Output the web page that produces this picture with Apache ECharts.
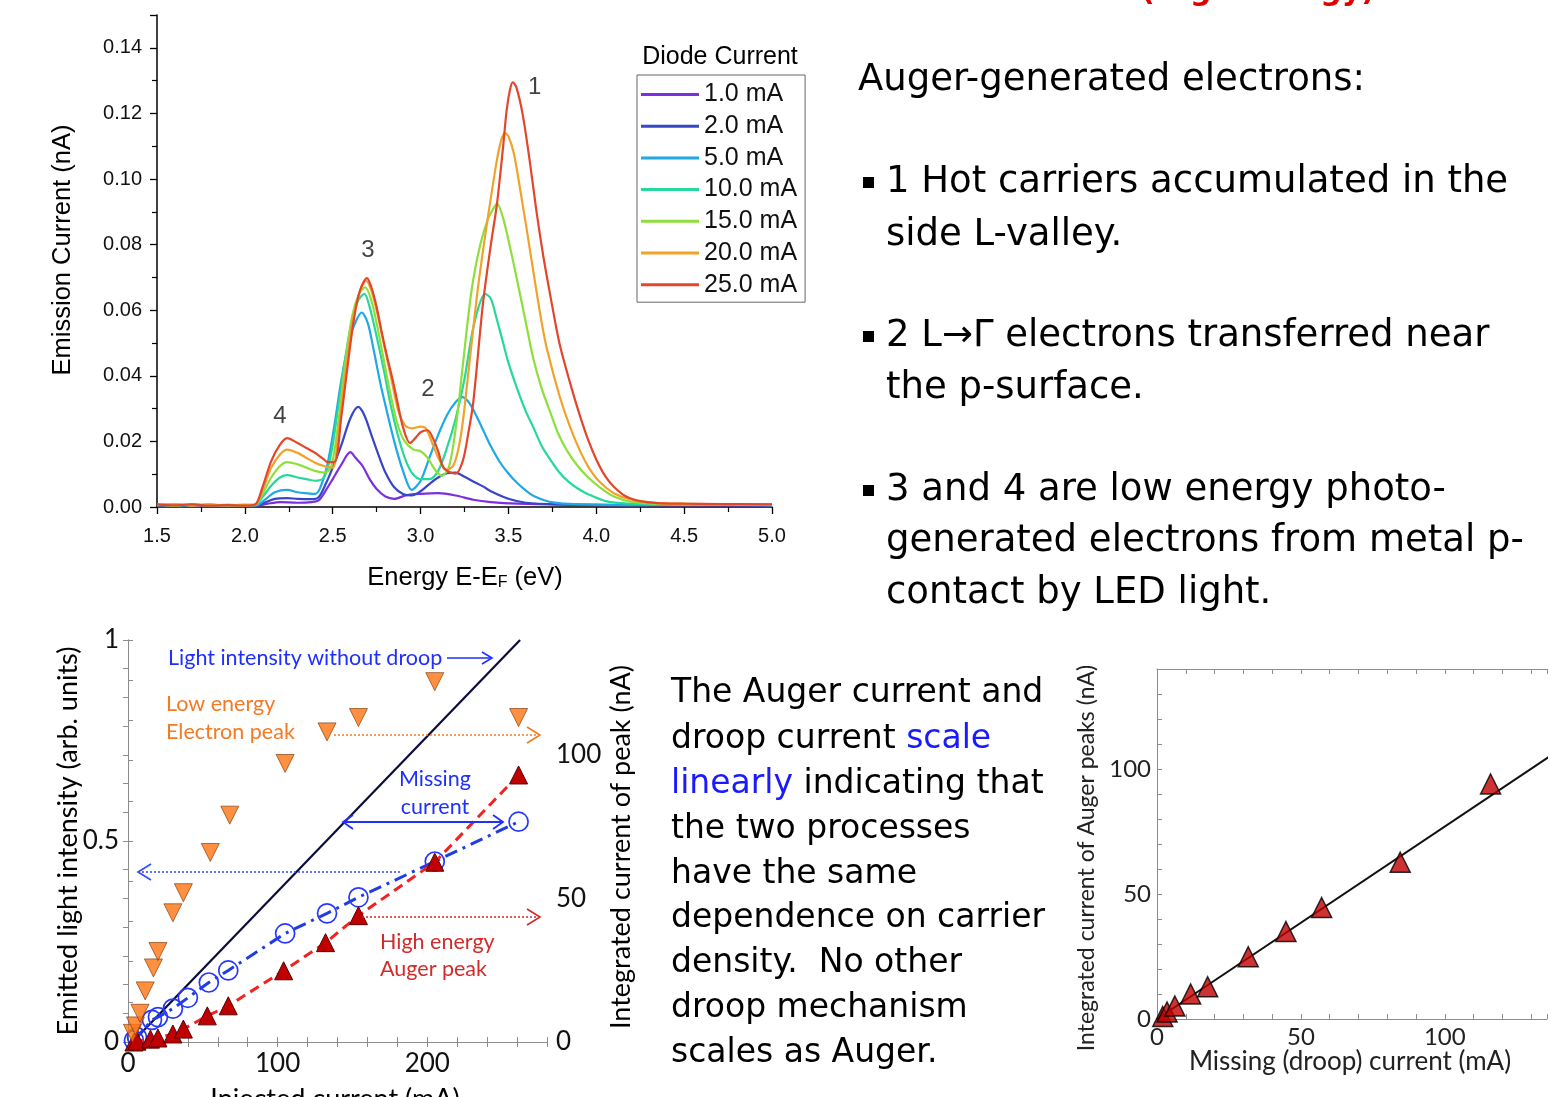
<!DOCTYPE html>
<html>
<head>
<meta charset="utf-8">
<title>Auger-generated electrons and LED droop</title>
<script src="https://cdn.jsdelivr.net/npm/echarts@6/dist/echarts.min.js"></script>
<style>
  html, body { margin: 0; padding: 0; background: #ffffff; }
  #chart { width: 1550px; height: 1097px; }
</style>
</head>
<body>
<div id="chart"></div>
<script>
// ---------- Emission spectra, one per diode current: [energy E-EF (eV), emission current (nA)] ----------
const diodeCurrents = ['1.0 mA', '2.0 mA', '5.0 mA', '10.0 mA', '15.0 mA', '20.0 mA', '25.0 mA'];
const curveColors = ['#7b2fe0', '#3646c9', '#1fa7e6', '#26d89a', '#8fdf3c', '#f1a22a', '#e3462b'];

const spec1mA = [[1.5,0.0005],[1.7,0.0006],[1.9,0.0004],[2.08,0.0005],[2.13,0.001],[2.2,0.0015],[2.3,0.0013],[2.38,0.0015],[2.42,0.002],[2.46,0.005],[2.5,0.0085],[2.55,0.013],[2.6,0.0167],[2.63,0.015],[2.67,0.0125],[2.71,0.0085],[2.75,0.0055],[2.8,0.0032],[2.85,0.0025],[2.92,0.0036],[3.0,0.004],[3.1,0.0042],[3.2,0.0035],[3.3,0.0022],[3.4,0.0015],[3.55,0.001],[3.8,0.0007],[4.2,0.0006],[5.0,0.0005]];

const spec2mA = [[1.5,0.0006],[1.7,0.0004],[1.9,0.0006],[2.07,0.0005],[2.12,0.0015],[2.17,0.0025],[2.24,0.0027],[2.3,0.0025],[2.38,0.0024],[2.42,0.003],[2.46,0.007],[2.5,0.012],[2.55,0.019],[2.6,0.027],[2.645,0.0305],[2.68,0.028],[2.72,0.022],[2.76,0.016],[2.8,0.0105],[2.85,0.006],[2.9,0.004],[2.95,0.0035],[3.0,0.0048],[3.05,0.007],[3.1,0.009],[3.15,0.0103],[3.2,0.0105],[3.25,0.0092],[3.3,0.0078],[3.355,0.0063],[3.4,0.0048],[3.5,0.0025],[3.6,0.0013],[3.8,0.0008],[4.1,0.0006],[4.5,0.0007],[5.0,0.0005]];

const spec5mA = [[1.5,0.0008],[1.6,0.0005],[1.7,0.0007],[1.8,0.0004],[1.9,0.0006],[2.0,0.0005],[2.07,0.0006],[2.12,0.0025],[2.17,0.0045],[2.24,0.0052],[2.3,0.0045],[2.35,0.0042],[2.4,0.004],[2.43,0.006],[2.47,0.013],[2.51,0.025],[2.55,0.039],[2.6,0.052],[2.635,0.057],[2.665,0.0593],[2.7,0.056],[2.73,0.0487],[2.77,0.038],[2.8,0.031],[2.85,0.02],[2.9,0.011],[2.95,0.0052],[3.0,0.008],[3.05,0.015],[3.1,0.022],[3.15,0.028],[3.2,0.032],[3.24,0.0335],[3.28,0.0315],[3.32,0.0275],[3.36,0.023],[3.4,0.0185],[3.45,0.0138],[3.5,0.0102],[3.55,0.0073],[3.6,0.005],[3.65,0.0032],[3.75,0.0014],[3.9,0.0008],[4.2,0.0006],[4.6,0.0007],[5.0,0.0006]];

const spec10mA = [[1.5,0.0005],[1.6,0.0008],[1.7,0.0005],[1.8,0.0008],[1.9,0.0004],[2.0,0.0007],[2.06,0.0006],[2.1,0.003],[2.15,0.0065],[2.2,0.009],[2.24,0.0097],[2.3,0.009],[2.35,0.0085],[2.4,0.008],[2.45,0.009],[2.49,0.016],[2.53,0.03],[2.57,0.045],[2.61,0.057],[2.645,0.063],[2.68,0.065],[2.71,0.061],[2.75,0.052],[2.79,0.042],[2.83,0.031],[2.87,0.022],[2.91,0.015],[2.95,0.0105],[3.0,0.0085],[3.05,0.0085],[3.1,0.011],[3.15,0.018],[3.2,0.027],[3.25,0.039],[3.29,0.052],[3.33,0.061],[3.367,0.065],[3.4,0.0635],[3.43,0.058],[3.47,0.05],[3.5,0.044],[3.55,0.036],[3.6,0.029],[3.64,0.0245],[3.69,0.0185],[3.74,0.0143],[3.79,0.0105],[3.84,0.0078],[3.89,0.0058],[3.95,0.004],[4.06,0.0017],[4.2,0.001],[4.4,0.0007],[4.7,0.0008],[5.0,0.0006]];

const spec15mA = [[1.5,0.0007],[1.6,0.0004],[1.7,0.0008],[1.8,0.0005],[1.9,0.0007],[2.0,0.0004],[2.06,0.0007],[2.1,0.004],[2.15,0.009],[2.2,0.0125],[2.24,0.0137],[2.3,0.013],[2.35,0.012],[2.4,0.011],[2.45,0.0105],[2.49,0.012],[2.53,0.025],[2.57,0.043],[2.61,0.058],[2.65,0.065],[2.685,0.067],[2.72,0.063],[2.75,0.056],[2.79,0.045],[2.83,0.034],[2.87,0.025],[2.91,0.02],[2.96,0.0175],[3.0,0.017],[3.04,0.015],[3.08,0.0115],[3.12,0.0095],[3.16,0.012],[3.2,0.024],[3.24,0.043],[3.29,0.066],[3.34,0.08],[3.385,0.088],[3.42,0.0915],[3.435,0.0925],[3.47,0.088],[3.51,0.079],[3.55,0.069],[3.6,0.056],[3.64,0.0456],[3.69,0.036],[3.74,0.0286],[3.78,0.0228],[3.83,0.0175],[3.89,0.0128],[3.95,0.0092],[4.02,0.006],[4.1,0.0032],[4.2,0.0016],[4.35,0.001],[4.5,0.0008],[4.7,0.0009],[5.0,0.0007]];

const spec20mA = [[1.5,0.0006],[1.6,0.0009],[1.7,0.0004],[1.8,0.0007],[1.9,0.0005],[2.0,0.0006],[2.06,0.0008],[2.1,0.005],[2.15,0.012],[2.2,0.016],[2.24,0.0175],[2.3,0.0165],[2.35,0.015],[2.4,0.0135],[2.45,0.0125],[2.5,0.012],[2.53,0.022],[2.57,0.04],[2.61,0.056],[2.65,0.065],[2.69,0.069],[2.72,0.066],[2.75,0.06],[2.79,0.05],[2.83,0.04],[2.87,0.03],[2.91,0.025],[2.95,0.024],[3.0,0.0245],[3.03,0.024],[3.07,0.019],[3.11,0.014],[3.15,0.0113],[3.19,0.013],[3.23,0.022],[3.27,0.04],[3.32,0.064],[3.36,0.08],[3.395,0.0925],[3.435,0.106],[3.46,0.112],[3.48,0.114],[3.5,0.113],[3.53,0.108],[3.56,0.099],[3.6,0.086],[3.65,0.069],[3.69,0.056],[3.72,0.048],[3.79,0.034],[3.85,0.0245],[3.91,0.0168],[3.96,0.0118],[4.02,0.0076],[4.1,0.0042],[4.2,0.0022],[4.35,0.0012],[4.5,0.001],[4.7,0.0008],[5.0,0.0009]];

const spec25mA = [[1.5,0.0008],[1.6,0.0005],[1.7,0.0008],[1.8,0.0004],[1.9,0.0006],[2.0,0.0004],[2.06,0.0008],[2.1,0.006],[2.15,0.014],[2.2,0.019],[2.24,0.021],[2.3,0.0195],[2.35,0.018],[2.4,0.0165],[2.45,0.0145],[2.47,0.0137],[2.51,0.0137],[2.55,0.028],[2.58,0.041],[2.62,0.057],[2.655,0.066],[2.695,0.0698],[2.72,0.067],[2.75,0.061],[2.78,0.053],[2.81,0.0457],[2.84,0.039],[2.866,0.0326],[2.9,0.0243],[2.94,0.0195],[2.97,0.021],[3.0,0.0228],[3.04,0.0234],[3.07,0.021],[3.1,0.017],[3.13,0.012],[3.17,0.0105],[3.2,0.0102],[3.24,0.014],[3.27,0.022],[3.3,0.032],[3.355,0.062],[3.4,0.08],[3.435,0.0925],[3.47,0.11],[3.49,0.121],[3.51,0.1275],[3.525,0.1295],[3.545,0.128],[3.58,0.12],[3.62,0.106],[3.66,0.09],[3.7,0.076],[3.74,0.064],[3.79,0.05],[3.85,0.038],[3.9,0.029],[3.95,0.021],[4.0,0.0145],[4.05,0.0095],[4.1,0.0062],[4.17,0.0032],[4.25,0.0018],[4.35,0.0012],[4.5,0.001],[4.7,0.0009],[5.0,0.0008]];

const spectra = [spec1mA, spec2mA, spec5mA, spec10mA, spec15mA, spec20mA, spec25mA];

// peak numbers written next to the spectra: [tag, energy, current]
const peakTags = [['1', 3.65, 0.1278], ['2', 3.042, 0.0359], ['3', 2.70, 0.0782], ['4', 2.20, 0.0277]];

// ---------- Light output and peak currents versus injected current ----------
const injLight = [4, 6, 16, 20, 30, 40, 54, 67, 105, 133, 154, 205, 261];
const lightOut = [0.004, 0.012, 0.055, 0.062, 0.083, 0.11, 0.148, 0.178, 0.27, 0.32, 0.36, 0.449, 0.548];
const injNoDroop = [3, 262];
const lightNoDroop = [0, 1];
const injLowPeak = [3, 5, 8, 11.5, 17, 20, 30, 37, 55, 68, 105, 133, 154, 205, 261];
const lowPeak = [3, 5.6, 10, 17.8, 25.8, 31.5, 45, 52, 66, 79, 97, 108, 113, 125.5, 113];
const injHighPeak = [4, 6, 15, 20, 30, 37, 53, 67, 104, 132, 154, 205, 261];
const highPeak = [0, 0.3, 1, 1.4, 2.8, 4.5, 9.1, 12.6, 24.8, 34.6, 44, 62.6, 93];

// ---------- Auger peak current versus missing (droop) current ----------
const droopCurrent = [2, 3.5, 6.2, 11.7, 17.6, 31.7, 44.8, 57.2, 84.5, 115.9];
const augerPeak = [1, 2.8, 5.2, 10, 12.9, 24.9, 35, 44.6, 62.7, 94];
const fitDroop = [0, 150];
const fitAuger = [0, 115.5];

const zip = (xs, ys) => xs.map((x, i) => [x, ys[i]]);

const ARIAL = '"Liberation Sans", Arial, sans-serif';
const CALIBRI = 'Lato, "Open Sans", sans-serif';
const TAHOMA = '"DejaVu Sans", sans-serif';

const chart = echarts.init(document.getElementById('chart'), null, { renderer: 'canvas' });

function labelEvery(step, maxShown) {
  return v => {
    const r = Math.round(v / step);
    return (Math.abs(v - r * step) < 1e-6 && v <= maxShown + 1e-9) ? String(+v.toFixed(3)) : '';
  };
}

const greyAxis = { lineStyle: { color: '#8c8c8c', width: 1 } };
const greyTickIn = { inside: true, length: 5, lineStyle: { color: '#8c8c8c' } };

// ---------- series ----------
const series = [];
spectra.forEach((d, i) => {
  series.push({
    name: diodeCurrents[i], type: 'line', xAxisIndex: 0, yAxisIndex: 0,
    data: d, showSymbol: false, symbol: 'none', smooth: 0.3,
    lineStyle: { width: 2.2, color: curveColors[i] }, itemStyle: { color: curveColors[i] },
    z: 2 + i
  });
});
series.push({
  name: 'peak tags', type: 'scatter', xAxisIndex: 0, yAxisIndex: 0,
  data: peakTags.map(p => ({ name: p[0], value: [p[1], p[2]] })),
  symbolSize: 1, itemStyle: { color: 'rgba(0,0,0,0)' },
  label: { show: true, position: 'inside', formatter: '{b}', fontSize: 24, fontFamily: ARIAL, color: '#111' },
  z: 20
});

series.push({
  name: 'no droop', type: 'line', xAxisIndex: 1, yAxisIndex: 1,
  data: zip(injNoDroop, lightNoDroop), symbol: 'none',
  lineStyle: { color: '#0c0c3c', width: 2.2 }, z: 3
});
series.push({
  name: 'light', type: 'line', xAxisIndex: 1, yAxisIndex: 1,
  data: zip(injLight, lightOut), symbol: 'circle', symbolSize: 19, showSymbol: true,
  itemStyle: { color: 'rgba(255,255,255,0)', borderColor: '#2638ff', borderWidth: 1.7 },
  lineStyle: { color: '#1f3de0', width: 3, type: [13, 6, 3, 6] }, z: 4
});
series.push({
  name: 'high energy peak', type: 'line', xAxisIndex: 1, yAxisIndex: 2,
  data: zip(injHighPeak, highPeak), symbol: 'triangle', symbolSize: 18, showSymbol: true,
  itemStyle: { color: '#c00000', borderColor: '#5a0000', borderWidth: 1 },
  lineStyle: { color: '#f02222', width: 3, type: [10, 6] }, z: 5
});
series.push({
  name: 'low energy peak', type: 'scatter', xAxisIndex: 1, yAxisIndex: 2,
  data: zip(injLowPeak, lowPeak), symbol: 'triangle', symbolRotate: 180, symbolSize: 18,
  itemStyle: { color: '#ff7412', borderColor: '#7a3300', borderWidth: 0.8 }, z: 6
});

series.push({
  name: 'linear fit', type: 'line', xAxisIndex: 3, yAxisIndex: 3,
  data: zip(fitDroop, fitAuger), symbol: 'none',
  lineStyle: { color: '#111', width: 2 }, z: 3
});
series.push({
  name: 'auger vs droop', type: 'scatter', xAxisIndex: 3, yAxisIndex: 3,
  data: zip(droopCurrent, augerPeak), symbol: 'triangle', symbolSize: 20,
  itemStyle: { color: '#c00000', borderColor: '#000', borderWidth: 1.5 }, z: 5
});

// ---------- text and annotation helpers ----------
function txt(text, x, y, o) {
  o = o || {};
  return {
    type: 'text', x: x, y: y, rotation: o.rotation || 0, z: 100,
    style: {
      text: text, fontSize: o.size || 20, fontFamily: o.family || ARIAL,
      fontWeight: o.weight || 'normal', fill: o.color || '#000',
      align: o.align || 'left', verticalAlign: o.valign || 'middle',
      rich: o.rich
    }
  };
}
function seg(x1, y1, x2, y2, color, width, dash) {
  return { type: 'line', z: 90, shape: { x1, y1, x2, y2 },
    style: { stroke: color, lineWidth: width, lineDash: dash || null } };
}
function chevron(points, color, width) {
  return { type: 'polyline', z: 90, shape: { points: points },
    style: { stroke: color, lineWidth: width, fill: null } };
}

const blue = '#1f2fff';
const orange = '#f47a24';
const red = '#d42a2a';
const NOTE = 21.5;
const BIG = 37;
const MID = 33;

const graphics = [
  // heading cut by the top edge
  txt('(High energy)', 1141, -8, { size: 30, family: TAHOMA, weight: 'bold', color: '#e00000' }),

  // legend heading
  txt('Diode Current', 720, 57, { size: 25, align: 'center' }),

  // axis titles of the spectra
  txt('Emission Current (nA)', 63, 250, { size: 25.5, align: 'center', rotation: Math.PI / 2 }),
  txt('{a|Energy E-E}{s|F}{a| (eV)}', 465, 575, { align: 'center',
    rich: { a: { fontSize: 25.5, fontFamily: ARIAL, fill: '#000', lineHeight: 32, verticalAlign: 'bottom' },
            s: { fontSize: 16, fontFamily: ARIAL, fill: '#000', lineHeight: 16, verticalAlign: 'bottom' } } }),

  // right column
  txt('Auger-generated electrons:', 858, 80, { size: BIG, family: TAHOMA }),
  { type: 'rect', z: 100, shape: { x: 863, y: 177, width: 11, height: 11 }, style: { fill: '#000' } },
  { type: 'rect', z: 100, shape: { x: 863, y: 331, width: 11, height: 11 }, style: { fill: '#000' } },
  { type: 'rect', z: 100, shape: { x: 863, y: 485, width: 11, height: 11 }, style: { fill: '#000' } },
  txt('1 Hot carriers accumulated in the', 886, 182, { size: BIG, family: TAHOMA }),
  txt('side L-valley.', 886, 235, { size: BIG, family: TAHOMA }),
  txt('2 L\u2192\u0393 electrons transferred near', 886, 336, { size: BIG, family: TAHOMA }),
  txt('the p-surface.', 886, 388, { size: BIG, family: TAHOMA }),
  txt('3 and 4 are low energy photo-', 886, 490, { size: BIG, family: TAHOMA }),
  txt('generated electrons from metal p-', 886, 541, { size: BIG, family: TAHOMA }),
  txt('contact by LED light.', 886, 593, { size: BIG, family: TAHOMA }),

  // middle column
  ...[
    ['The Auger current and', 693],
    ['droop current {b|scale}', 739],
    ['{b|linearly} indicating that', 784],
    ['the two processes', 829],
    ['have the same', 874],
    ['dependence on carrier', 918],
    ['density.  No other', 963],
    ['droop mechanism', 1008],
    ['scales as Auger.', 1053]
  ].map(l => txt(l[0], 671, l[1], { size: MID, family: TAHOMA,
      rich: { b: { fontSize: MID, fontFamily: TAHOMA, fill: '#1a1aff' } } })),

  // light / peak current panel
  txt('Emitted light intensity (arb. units)', 68, 841, { size: 27, family: CALIBRI, align: 'center', rotation: Math.PI / 2 }),
  txt('Integrated current of peak (nA)', 621, 847, { size: 27, family: CALIBRI, align: 'center', rotation: Math.PI / 2 }),
  txt('Injected current (mA)', 335, 1099, { size: 27, family: CALIBRI, align: 'center' }),

  txt('Light intensity without droop', 168, 658, { size: NOTE, family: CALIBRI, color: blue }),
  seg(447, 658, 491, 658, blue, 1.6),
  chevron([[482, 652], [492, 658], [482, 664]], blue, 1.6),

  txt('Low energy', 166, 704, { size: NOTE, family: CALIBRI, color: orange }),
  txt('Electron peak', 166, 732, { size: NOTE, family: CALIBRI, color: orange }),
  seg(334, 735, 538, 735, orange, 1.6, [2, 2]),
  chevron([[527, 727], [540, 735], [527, 743]], orange, 1.6),

  txt('Missing', 435, 779, { size: NOTE, family: CALIBRI, color: blue, align: 'center' }),
  txt('current', 435, 807, { size: NOTE, family: CALIBRI, color: blue, align: 'center' }),
  seg(344, 822, 502, 822, blue, 1.8),
  chevron([[353, 815], [343, 822], [353, 829]], blue, 1.8),
  chevron([[493, 815], [503, 822], [493, 829]], blue, 1.8),

  seg(400, 872, 139, 872, '#2b4bff', 1.6, [2, 2]),
  chevron([[151, 864], [138, 872], [151, 880]], '#2b4bff', 1.6),

  seg(362, 917, 538, 917, red, 1.6, [2, 2]),
  chevron([[527, 909], [540, 917], [527, 925]], red, 1.6),
  txt('High energy', 380, 942, { size: NOTE, family: CALIBRI, color: red }),
  txt('Auger peak', 380, 969, { size: NOTE, family: CALIBRI, color: red }),

  // auger vs droop panel
  txt('Integrated current of Auger peaks (nA)', 1087, 858, { size: 23, family: CALIBRI, align: 'center', rotation: Math.PI / 2, color: '#222' }),
  txt('Missing (droop) current (mA)', 1350, 1062, { size: 26, family: CALIBRI, align: 'center', color: '#222' })
];

const option = {
  animation: false,
  backgroundColor: '#ffffff',
  grid: [
    { left: 157, top: 15, width: 615, height: 492 },
    { left: 128, top: 640, width: 419, height: 402 },
    { left: 1157, top: 669, width: 393, height: 350 }
  ],
  legend: {
    data: diodeCurrents, orient: 'vertical', left: 637, top: 75,
    padding: [7, 8, 5, 4], itemGap: 6.7, itemWidth: 58, itemHeight: 3, icon: 'rect',
    borderColor: '#666', borderWidth: 1, selectedMode: false,
    textStyle: { fontSize: 25, fontFamily: ARIAL, color: '#111', lineHeight: 24 }
  },
  xAxis: [
    { type: 'value', gridIndex: 0, min: 1.5, max: 5.0, interval: 0.5,
      axisLine: { lineStyle: { color: '#000', width: 1.5 } },
      axisTick: { show: true, inside: false, length: 7, lineStyle: { color: '#000', width: 1.3 } },
      minorTick: { show: true, splitNumber: 2, length: 5, lineStyle: { color: '#000', width: 1.2 } },
      axisLabel: { formatter: v => v.toFixed(1), fontSize: 20, fontFamily: ARIAL, color: '#111', margin: 19 },
      splitLine: { show: false } },
    { type: 'value', gridIndex: 1, min: 0, max: 280, interval: 20, position: 'bottom',
      axisLine: greyAxis, axisTick: greyTickIn,
      axisLabel: { formatter: labelEvery(100, 200), fontSize: 26, fontFamily: CALIBRI, color: '#111', margin: 9 },
      splitLine: { show: false } },
    { type: 'value', gridIndex: 1, min: 0, max: 280, interval: 20, position: 'top',
      axisLine: greyAxis, axisTick: greyTickIn, axisLabel: { show: false }, splitLine: { show: false } },
    { type: 'value', gridIndex: 2, min: 0, max: 135.5, interval: 10, position: 'bottom',
      axisLine: greyAxis, axisTick: greyTickIn,
      axisLabel: { formatter: labelEvery(50, 100), fontSize: 24, fontFamily: CALIBRI, color: '#222', margin: 6 },
      splitLine: { show: false } },
    { type: 'value', gridIndex: 2, min: 0, max: 135.5, interval: 10, position: 'top',
      axisLine: greyAxis, axisTick: greyTickIn, axisLabel: { show: false }, splitLine: { show: false } }
  ],
  yAxis: [
    { type: 'value', gridIndex: 0, min: 0, max: 0.15, interval: 0.02,
      axisLine: { show: true, lineStyle: { color: '#000', width: 1.5 } },
      axisTick: { show: true, inside: false, length: 7, lineStyle: { color: '#000', width: 1.3 } },
      minorTick: { show: true, splitNumber: 2, length: 5, lineStyle: { color: '#000', width: 1.2 } },
      axisLabel: { formatter: v => (v > 0.145 ? '' : v.toFixed(2)), fontSize: 20, fontFamily: ARIAL, color: '#111', margin: 15 },
      splitLine: { show: false } },
    { type: 'value', gridIndex: 1, min: 0, max: 1, interval: 0.1, position: 'left',
      axisLine: { show: true, lineStyle: { color: '#8c8c8c' } }, axisTick: greyTickIn,
      axisLabel: { formatter: labelEvery(0.5, 1), fontSize: 26, fontFamily: CALIBRI, color: '#111', margin: 9 },
      splitLine: { show: false } },
    { type: 'value', gridIndex: 1, min: 0, max: 140, interval: 10, position: 'right',
      axisLine: { show: true, lineStyle: { color: '#8c8c8c' } }, axisTick: greyTickIn,
      axisLabel: { formatter: labelEvery(50, 100), fontSize: 26, fontFamily: CALIBRI, color: '#111', margin: 9 },
      splitLine: { show: false } },
    { type: 'value', gridIndex: 2, min: 0, max: 140, interval: 10, position: 'left',
      axisLine: { show: true, lineStyle: { color: '#8c8c8c' } }, axisTick: greyTickIn,
      axisLabel: { formatter: labelEvery(50, 100), fontSize: 24, fontFamily: CALIBRI, color: '#222', margin: 6 },
      splitLine: { show: false } }
  ],
  series: series,
  graphic: graphics
};

chart.setOption(option);
</script>
</body>
</html>
